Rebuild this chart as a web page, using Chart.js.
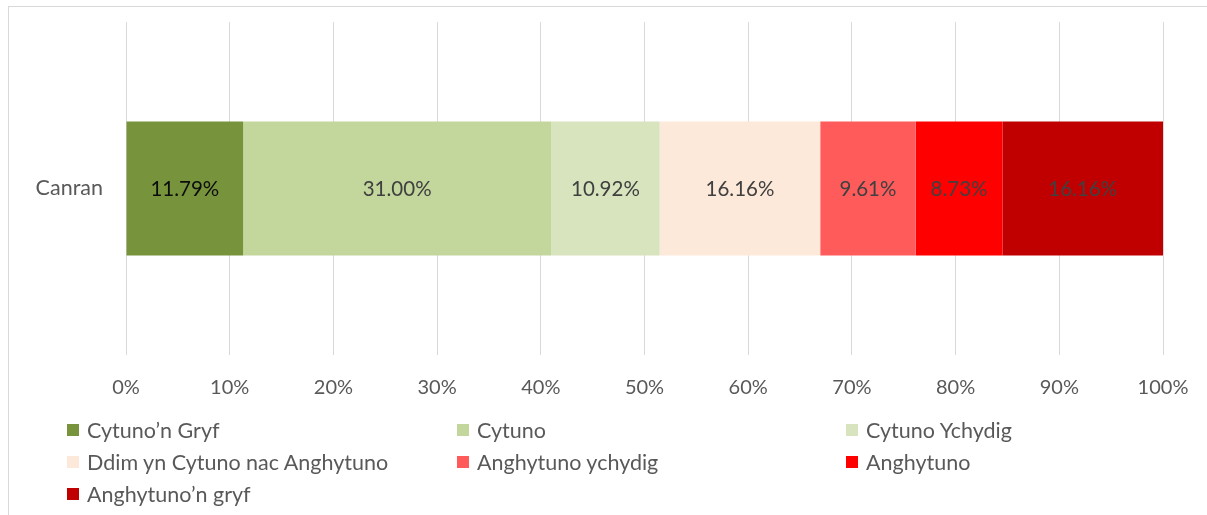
<!DOCTYPE html>
<html>
<head>
<meta charset="utf-8">
<script src="https://cdn.jsdelivr.net/npm/chart.js@4"></script>
<style>
  html, body { margin: 0; padding: 0; background: #fff; overflow: hidden; }
  #frame { position: absolute; left: 8px; top: 6px; width: 1400px; height: 700px;
           border-left: 1px solid #d9d9d9; border-top: 1px solid #d9d9d9; }
  #wrap { position: absolute; left: 0; top: 0; width: 1207px; height: 515px; }
  #legend { position: absolute; left: 0; top: 0; width: 1207px; height: 515px; pointer-events: none;
            font-family: Lato, "Open Sans", sans-serif; font-size: 21.5px; color: #595959; }
  .li { position: absolute; white-space: nowrap; line-height: 24px; height: 24px; }
  .li span.box { position: absolute; left: 0; top: 6px; width: 12px; height: 12px; }
  .li span.txt { position: absolute; left: 20px; top: 0; }
</style>
</head>
<body>
<div id="frame"></div>
<div id="wrap"><canvas id="c" width="1207" height="515"></canvas></div>
<div id="legend"></div>
<script>
const categories = ["Canran"];
const seriesNames = ["Cytuno’n Gryf", "Cytuno", "Cytuno Ychydig", "Ddim yn Cytuno nac Anghytuno", "Anghytuno ychydig", "Anghytuno", "Anghytuno’n gryf"];
const seriesValues = [11.79, 31.00, 10.92, 16.16, 9.61, 8.73, 16.16];
const seriesColors = ["#77933C", "#C3D69B", "#D7E4BD", "#FDE9D9", "#FF5B5B", "#FF0000", "#C00000"];
const labelColors = ["#0d0d0d", "#404040", "#404040", "#404040", "#404040", "#404040", "#404040"];
const tickLabels = ["0%", "10%", "20%", "30%", "40%", "50%", "60%", "70%", "80%", "90%", "100%"];

const total = seriesValues.reduce((a, b) => a + b, 0);
const FONT = 'Lato, "Open Sans", sans-serif';

const datasets = seriesNames.map((name, i) => ({
  label: name,
  data: [seriesValues[i] / total * 100],
  raw: seriesValues[i],
  backgroundColor: seriesColors[i],
  borderWidth: 0,
  categoryPercentage: 1,
  barPercentage: 0.403
}));

const valueLabels = {
  id: 'valueLabels',
  afterDatasetsDraw(chart) {
    const ctx = chart.ctx;
    ctx.save();
    ctx.font = '20.5px ' + FONT;
    ctx.textAlign = 'center';
    ctx.textBaseline = 'middle';
    chart.data.datasets.forEach((ds, i) => {
      const meta = chart.getDatasetMeta(i);
      meta.data.forEach(el => {
        const cx = (el.x + el.base) / 2;
        ctx.fillStyle = labelColors[i];
        ctx.fillText(ds.raw.toFixed(2) + '%', cx, el.y + 1);
      });
    });
    ctx.restore();
  }
};

const chart = new Chart(document.getElementById('c'), {
  type: 'bar',
  data: { labels: categories, datasets },
  options: {
    indexAxis: 'y',
    responsive: false,
    animation: false,
    layout: { padding: { left: 0, right: 44, top: 22, bottom: 115 } },
    plugins: { legend: { display: false }, tooltip: { enabled: false } },
    scales: {
      x: {
        stacked: true, min: 0, max: 100,
        grid: { color: '#d9d9d9', lineWidth: 1, drawTicks: true, tickLength: 21, tickColor: 'rgba(0,0,0,0)' },
        border: { display: false },
        ticks: {
          stepSize: 10, padding: 0, color: '#595959',
          font: { family: FONT, size: 20 },
          callback: (v, idx) => tickLabels[idx]
        }
      },
      y: {
        stacked: true,
        grid: { display: true, color: 'rgba(0,0,0,0)', drawOnChartArea: false, drawTicks: true, tickLength: 23, tickColor: 'rgba(0,0,0,0)' },
        border: { display: false },
        ticks: { padding: 0, color: '#595959', font: { family: FONT, size: 21.5 } },
        afterFit(scale) { scale.width = 126; }
      }
    }
  },
  plugins: [valueLabels]
});

// legend built from the chart's datasets
const legend = document.getElementById('legend');
const colX = [67, 457, 846];
const rowY = [430, 462, 494];
chart.data.datasets.forEach((ds, i) => {
  const d = document.createElement('div');
  d.className = 'li';
  d.style.left = colX[i % 3] + 'px';
  d.style.top = (rowY[Math.floor(i / 3)] - 12) + 'px';
  d.innerHTML = '<span class="box" style="background:' + ds.backgroundColor + '"></span><span class="txt"></span>';
  d.querySelector('.txt').textContent = ds.label;
  legend.appendChild(d);
});
</script>
</body>
</html>
